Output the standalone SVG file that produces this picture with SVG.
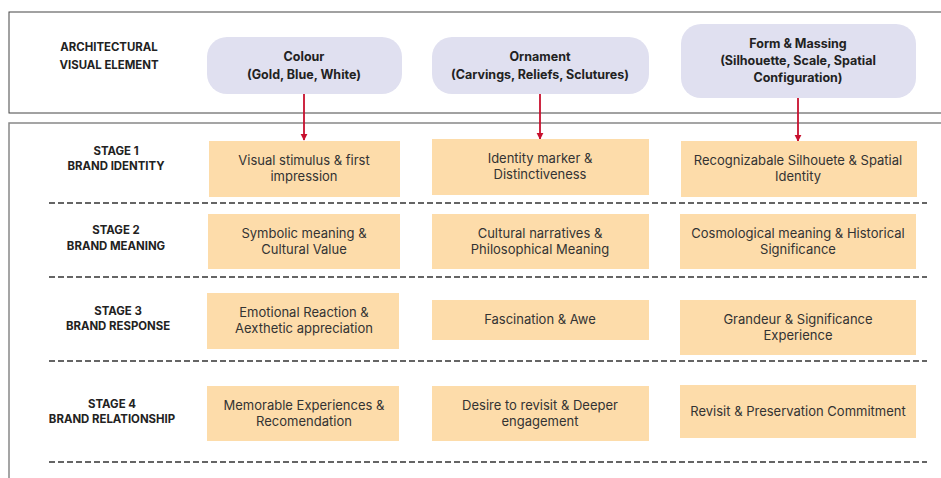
<svg xmlns="http://www.w3.org/2000/svg" width="941" height="478" viewBox="0 0 941 478">
<style>
.lbl{font-family:Inter,"Liberation Sans",sans-serif;font-weight:700;font-size:11.4px;fill:#222;text-anchor:middle}
.hd{font-family:Inter,"Liberation Sans",sans-serif;font-weight:700;font-size:12.5px;fill:#222;text-anchor:middle}
.bx{font-family:Inter,"Liberation Sans",sans-serif;font-weight:400;font-size:13px;fill:#333;text-anchor:middle}
.pill{fill:#e0e0f0}
.cell{fill:#fddcaa}
.dash{stroke:#333;stroke-width:1.5;stroke-dasharray:6 3;fill:none}
.arr{stroke:#c8102e;stroke-width:1.8;fill:none;marker-end:url(#ah)}
</style>
<defs>
<marker id="ah" viewBox="0 0 10 10" refX="9" refY="5" markerWidth="4" markerHeight="4" orient="auto" markerUnits="strokeWidth">
<path d="M0,0 L10,5 L0,10 Z" fill="#c8102e"/>
</marker>
</defs>
<rect x="0" y="0" width="941" height="478" fill="#fff"/>
<rect x="9" y="12" width="940" height="101" fill="none" stroke="#444" stroke-width="1"/>
<rect x="9" y="123" width="940" height="370" fill="none" stroke="#888" stroke-width="1.5"/>

<g id="row-labels">
<text class="lbl" x="109" y="51">ARCHITECTURAL</text>
<text class="lbl" x="109" y="69">VISUAL ELEMENT</text>
</g>
<g id="stage1-label"><text class="lbl" x="116" y="155">STAGE 1</text><text class="lbl" x="116" y="170">BRAND IDENTITY</text></g>
<g id="stage2-label"><text class="lbl" x="116" y="234">STAGE 2</text><text class="lbl" x="116" y="250">BRAND MEANING</text></g>
<g id="stage3-label"><text class="lbl" x="118" y="315">STAGE 3</text><text class="lbl" x="118" y="330">BRAND RESPONSE</text></g>
<g id="stage4-label"><text class="lbl" x="112" y="408">STAGE 4</text><text class="lbl" x="112" y="423">BRAND RELATIONSHIP</text></g>

<g id="dividers">
<line class="dash" x1="49" y1="203" x2="927" y2="203"/>
<line class="dash" x1="49" y1="277" x2="927" y2="277"/>
<line class="dash" x1="49" y1="361" x2="927" y2="361"/>
<line class="dash" x1="49" y1="462" x2="927" y2="462"/>
</g>

<g id="h-colour"><rect class="pill" x="207" y="37" width="195" height="57" rx="20"/>
<text class="hd" x="304" y="61">Colour</text><text class="hd" x="304" y="79">(Gold, Blue, White)</text></g>
<g id="h-ornament"><rect class="pill" x="432" y="37" width="217" height="57" rx="20"/>
<text class="hd" x="540" y="61">Ornament</text><text class="hd" x="540" y="79">(Carvings, Reliefs, Sclutures)</text></g>
<g id="h-form"><rect class="pill" x="681" y="24" width="235" height="74" rx="20"/>
<text class="hd" x="798" y="48">Form &amp; Massing</text><text class="hd" x="798" y="65">(Silhouette, Scale, Spatial</text><text class="hd" x="798" y="82">Configuration)</text></g>

<g id="connectors">
<line class="arr" x1="304" y1="94" x2="304" y2="140"/>
<line class="arr" x1="540" y1="94" x2="540" y2="139"/>
<line class="arr" x1="798" y1="98" x2="798" y2="141"/>
</g>

<g id="s1-colour"><rect class="cell" x="209" y="141" width="191" height="56"/><text class="bx" x="304" y="165">Visual stimulus &amp; first</text><text class="bx" x="304" y="181">impression</text></g>
<g id="s1-ornament"><rect class="cell" x="432" y="139" width="217" height="56"/><text class="bx" x="540" y="163">Identity marker &amp;</text><text class="bx" x="540" y="179">Distinctiveness</text></g>
<g id="s1-form"><rect class="cell" x="681" y="141" width="236" height="56"/><text class="bx" x="798" y="165">Recognizabale Silhouete &amp; Spatial</text><text class="bx" x="798" y="181">Identity</text></g>

<g id="s2-colour"><rect class="cell" x="208" y="214" width="192" height="55"/><text class="bx" x="304" y="238">Symbolic meaning &amp;</text><text class="bx" x="304" y="254">Cultural Value</text></g>
<g id="s2-ornament"><rect class="cell" x="432" y="214" width="217" height="55"/><text class="bx" x="540" y="238">Cultural narratives &amp;</text><text class="bx" x="540" y="254">Philosophical Meaning</text></g>
<g id="s2-form"><rect class="cell" x="680" y="214" width="236" height="55"/><text class="bx" x="798" y="238">Cosmological meaning &amp; Historical</text><text class="bx" x="798" y="254">Significance</text></g>

<g id="s3-colour"><rect class="cell" x="207" y="293" width="192" height="56"/><text class="bx" x="304" y="317">Emotional Reaction &amp;</text><text class="bx" x="304" y="333">Aexthetic appreciation</text></g>
<g id="s3-ornament"><rect class="cell" x="432" y="300" width="217" height="40"/><text class="bx" x="540" y="324">Fascination &amp; Awe</text></g>
<g id="s3-form"><rect class="cell" x="680" y="300" width="236" height="55"/><text class="bx" x="798" y="324">Grandeur &amp; Significance</text><text class="bx" x="798" y="340">Experience</text></g>

<g id="s4-colour"><rect class="cell" x="207" y="386" width="192" height="55"/><text class="bx" x="304" y="410">Memorable Experiences &amp;</text><text class="bx" x="304" y="426">Recomendation</text></g>
<g id="s4-ornament"><rect class="cell" x="432" y="386" width="217" height="55"/><text class="bx" x="540" y="410">Desire to revisit &amp; Deeper</text><text class="bx" x="540" y="426">engagement</text></g>
<g id="s4-form"><rect class="cell" x="680" y="385" width="236" height="53"/><text class="bx" x="798" y="416">Revisit &amp; Preservation Commitment</text></g>
</svg>
